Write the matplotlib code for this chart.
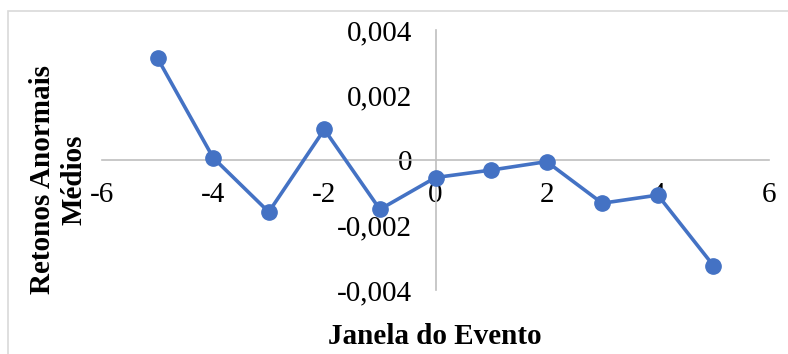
import matplotlib.pyplot as plt
from matplotlib.patches import Rectangle
from matplotlib.ticker import FuncFormatter

# Retornos anormais médios por dia da janela do evento
dias = [-5, -4, -3, -2, -1, 0, 1, 2, 3, 4, 5]
retornos = [0.00313, 0.00007, -0.0016, 0.00094, -0.00152, -0.00054,
            -0.00031, -0.00005, -0.00133, -0.00108, -0.00325]
x_ticks = [-6, -4, -2, 0, 2, 4, 6]
y_ticks = [-0.004, -0.002, 0, 0.002, 0.004]

plt.rcParams['font.family'] = ['Liberation Serif', 'DejaVu Serif']

fig = plt.figure(figsize=(7.88, 3.54), dpi=100)
# moldura do gráfico (só aparecem as bordas de cima e da esquerda)
fig.patches.append(Rectangle((8 / 788, -0.05), 1.0, 1 - 11 / 354 + 0.05,
                             transform=fig.transFigure, fill=False,
                             edgecolor='#d9d9d9', linewidth=1.2))

ax = fig.add_axes([102 / 788, 1 - 290 / 354, 667 / 788, 260 / 354])
ax.plot(dias, retornos, color='#4472C4', linewidth=2.6, marker='o',
        markersize=11, zorder=3)

ax.set_xlim(-6, 6)
ax.set_ylim(-0.004, 0.004)
ax.set_xticks(x_ticks)
ax.set_yticks(y_ticks)
ax.yaxis.set_major_formatter(FuncFormatter(
    lambda v, p: '0' if abs(v) < 1e-12 else f'{v:.3f}'.replace('.', ',')))
ax.xaxis.set_major_formatter(FuncFormatter(lambda v, p: f'{v:.0f}'))

for s in ['top', 'right']:
    ax.spines[s].set_visible(False)
ax.spines['left'].set_position(('data', 0))
ax.spines['bottom'].set_position(('data', 0))
for s in ['left', 'bottom']:
    ax.spines[s].set_color('#bfbfbf')
    ax.spines[s].set_linewidth(1.2)
ax.tick_params(length=0, labelsize=21)
ax.tick_params(axis='y', pad=17)
ax.tick_params(axis='x', pad=16)

fig.text(435 / 788, 1 - 336 / 354, 'Janela do Evento', ha='center',
         va='center', fontsize=21, fontweight='bold')
fig.text(58 / 788, 1 - 180 / 354, 'Retonos Anormais\nMédios', ha='center',
         va='center', rotation=90, fontsize=21, fontweight='bold',
         linespacing=1.2)

fig.savefig('out.png', dpi=100)
